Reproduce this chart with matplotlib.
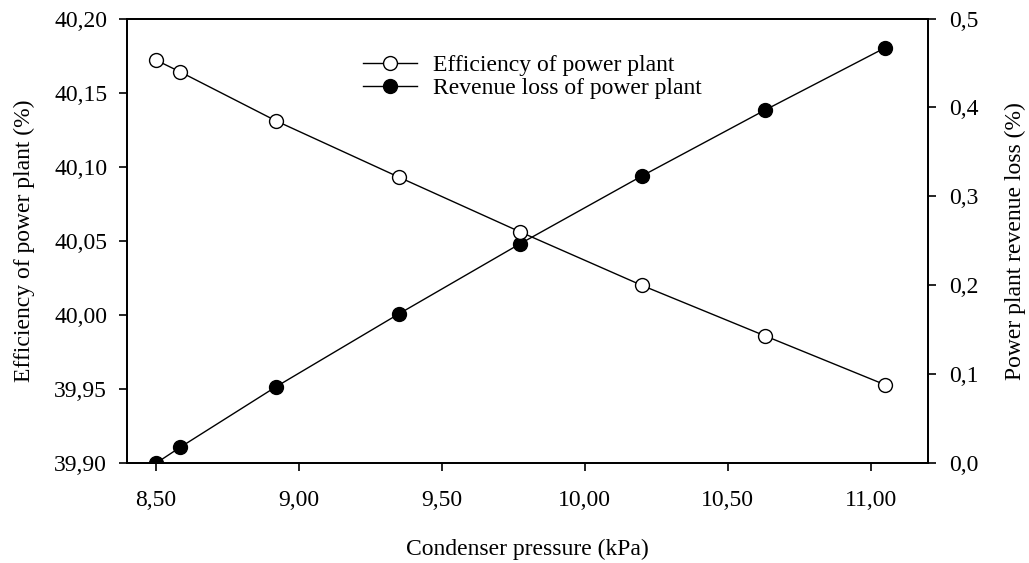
import matplotlib
matplotlib.use("Agg")
import matplotlib.pyplot as plt
from matplotlib.ticker import FuncFormatter

plt.rcParams['font.family'] = ['Liberation Serif', 'DejaVu Serif']

# condenser pressure (kPa)
pressure = [8.50, 8.585, 8.92, 9.35, 9.775, 10.20, 10.63, 11.05]
# efficiency of power plant (%)
efficiency = [40.172, 40.164, 40.131, 40.093, 40.056, 40.020, 39.986, 39.953]
# revenue loss of power plant (%)
revenue_loss = [0.0, 0.018, 0.086, 0.168, 0.247, 0.323, 0.397, 0.467]

x_ticks = [8.5, 9.0, 9.5, 10.0, 10.5, 11.0]
y1_ticks = [39.90, 39.95, 40.00, 40.05, 40.10, 40.15, 40.20]
y2_ticks = [0.0, 0.1, 0.2, 0.3, 0.4, 0.5]


def comma(fmt):
    return FuncFormatter(lambda v, p: (fmt % v).replace('.', ','))


fig = plt.figure(figsize=(10.29, 5.63), dpi=100)
ax1 = fig.add_axes([0.1237, 0.1771, 0.7780, 0.7900])
ax2 = ax1.twinx()

fs = 17
l1, = ax1.plot(pressure, efficiency, '-o', color='black', lw=1.0,
               markersize=10, markerfacecolor='white', markeredgecolor='black',
               markeredgewidth=1.0, label='Efficiency of power plant')
l2, = ax2.plot(pressure, revenue_loss, '-o', color='black', lw=1.0,
               markersize=10, markerfacecolor='black', markeredgecolor='black',
               markeredgewidth=1.0, label='Revenue loss of power plant')
ax1.set_zorder(ax2.get_zorder() + 1)
ax1.patch.set_visible(False)

ax1.set_xlim(8.4, 11.2)
ax1.set_ylim(39.90, 40.20)
ax2.set_ylim(0.0, 0.5)
ax1.set_xticks(x_ticks)
ax1.set_yticks(y1_ticks)
ax2.set_yticks(y2_ticks)
ax1.xaxis.set_major_formatter(comma('%.2f'))
ax1.yaxis.set_major_formatter(comma('%.2f'))
ax2.yaxis.set_major_formatter(comma('%.1f'))

for ax in (ax1, ax2):
    ax.tick_params(direction='out', length=6, width=1.2, labelsize=fs)
    for s in ax.spines.values():
        s.set_linewidth(1.3)
ax1.tick_params(axis='x', pad=13.5)
ax1.tick_params(axis='y', pad=8.5)
ax2.tick_params(axis='y', pad=9)

ax1.set_xlabel('Condenser pressure (kPa)', fontsize=fs, labelpad=20)
ax1.set_ylabel('Efficiency of power plant (%)', fontsize=fs, labelpad=13.5)
ax2.set_ylabel('Power plant revenue loss (%)', fontsize=fs, labelpad=19)

ax1.legend(handles=[l1, l2], loc='upper left', bbox_to_anchor=(0.2825, 0.94),
           frameon=False, fontsize=fs, handlelength=2.3, handletextpad=0.68,
           labelspacing=0.05, borderaxespad=0)

fig.savefig('out.png', dpi=100)
